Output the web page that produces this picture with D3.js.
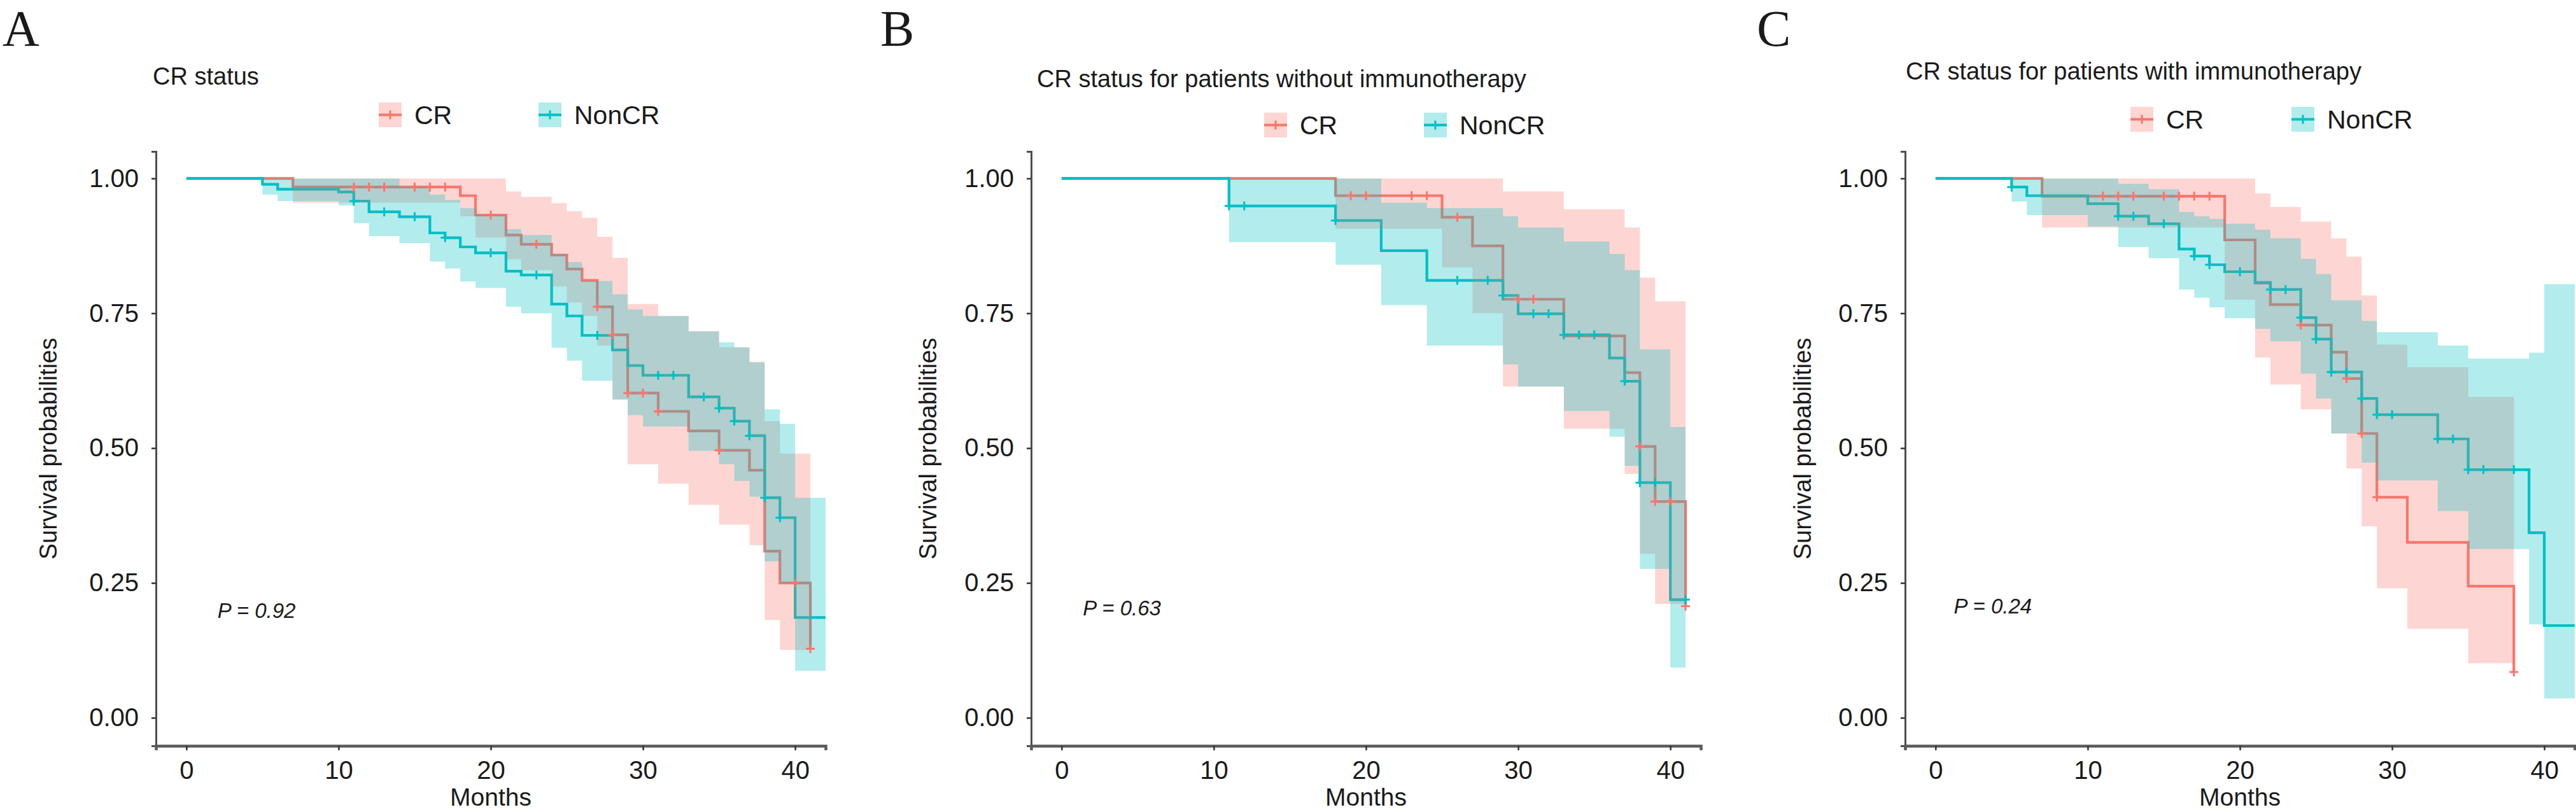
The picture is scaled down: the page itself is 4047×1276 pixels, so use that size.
<!DOCTYPE html>
<html>
<head>
<meta charset="utf-8">
<script src="https://cdn.jsdelivr.net/npm/d3@7"></script>
<style>
    body { margin: 0; background: #fff; }
    svg { display: block; }
    text { font-family: "Liberation Sans", Arial, sans-serif; fill: #1a1a1a; }
</style>
</head>
<body>
<svg id="chart" width="4047" height="1276"></svg>
<script>
// groups + shared ticks
var groups = ["CR", "NonCR"];
var xTicks = [0, 10, 20, 30, 40];
var yTicks = [0, 0.25, 0.5, 0.75, 1];
var panelLetters = ["A", "B", "C"];
var panelTitles = ["CR status",
    "CR status for patients without immunotherapy",
    "CR status for patients with immunotherapy"];
var pValues = ["P = 0.92", "P = 0.63", "P = 0.24"];
var pValueAt = [[2.05, 0.185], [1.4, 0.19], [1.2, 0.194]];   // [months, surv]

// A: all patients
var aCrTime   = [0, 7, 18, 19, 21, 22, 24, 25, 26, 27, 28, 29, 31, 33, 35, 37, 38, 39, 41];
var aCrSurv   = [1, .984, .968, .932, .895, .878, .858, .832, .811, .762, .71, .602, .568, .532, .496, .459, .309, .25, .128];
var aCrUpper  = [1, 1, 1, 1, .976, .966, .954, .939, .927, .892, .853, .767, .745, .717, .687, .66, .55, .49, .49];
var aCrLower  = [1, .955, .93, .89, .85, .83, .80, .77, .745, .69, .59, .47, .434, .395, .358, .32, .181, .126, .126];
var aCrCensor = [11, 12, 13, 15, 16, 17, 20, 23, 27, 28, 29, 30, 31, 35, 40, 41];
var aNonTime   = [0, 5, 6, 10, 11, 12, 14, 16, 17, 18, 19, 21, 22, 24, 25, 26, 28, 29, 30, 33, 35, 36, 37, 38, 39, 40];
var aNonSurv   = [1, .989, .98, .975, .958, .938, .929, .899, .89, .873, .862, .828, .821, .767, .745, .709, .682, .653, .635, .595, .574, .55, .523, .408, .371, .186];
var aNonUpper  = [1, 1, 1, 1, 1, 1, .985, .97, .96, .945, .932, .906, .895, .86, .845, .81, .785, .757, .745, .716, .696, .687, .659, .572, .545, .408];
var aNonLower  = [1, .97, .958, .95, .917, .893, .88, .846, .833, .809, .797, .762, .75, .686, .662, .625, .59, .561, .54, .495, .47, .439, .41, .29, .25, .087];
var aNonCensor = [11, 13, 15, 17, 20, 23, 27, 31, 32, 34, 35, 36, 37, 38, 39];
var aEnd = [41, 42];

// B: without immunotherapy
var bCrTime   = [0, 18, 25, 27, 29, 33, 37, 38, 39, 41];
var bCrSurv   = [1, .968, .928, .875, .776, .708, .64, .503, .401, .207];
var bCrUpper  = [1, 1, 1, 1, .976, .943, .909, .816, .772, .772];
var bCrLower  = [1, .907, .835, .75, .614, .536, .452, .304, .211, .211];
var bCrCensor = [19, 20, 23, 24, 26, 30, 31, 38, 39, 40, 41];
var bNonTime   = [0, 11, 18, 21, 24, 29, 30, 33, 36, 37, 38, 40];
var bNonSurv   = [1, .949, .922, .866, .811, .783, .749, .71, .667, .624, .436, .219];
var bNonUpper  = [1, 1, 1, .955, .945, .93, .909, .883, .86, .83, .683, .539];
var bNonLower  = [1, .882, .84, .765, .69, .655, .614, .569, .521, .467, .276, .093];
var bNonCensor = [11, 12, 18, 26, 28, 29, 31, 32, 33, 34, 35, 37, 38, 39, 41];
var bEnd = [41, 41];

// C: with immunotherapy
var cCrTime   = [0, 7, 19, 21, 22, 24, 26, 27, 28, 29, 31, 35, 38];
var cCrSurv   = [1, .967, .886, .806, .766, .728, .678, .629, .527, .409, .325, .244, .085];
var cCrUpper  = [1, 1, 1, .972, .947, .92, .889, .855, .783, .692, .65, .595, .595];
var cCrLower  = [1, .909, .775, .668, .618, .572, .527, .462, .355, .24, .165, .101, .101];
var cCrCensor = [11, 12, 13, 15, 16, 17, 18, 24, 27, 28, 29, 38];
var cNonTime   = [0, 5, 6, 10, 12, 14, 16, 17, 18, 19, 21, 22, 24, 25, 26, 28, 29, 33, 35, 39, 40];
var cNonSurv   = [1, .984, .968, .953, .93, .916, .869, .856, .84, .827, .807, .794, .742, .702, .641, .592, .562, .517, .46, .343, .171];
var cNonUpper  = [1, 1, 1, 1, .99, .98, .938, .93, .925, .916, .905, .889, .851, .823, .774, .736, .715, .69, .666, .677, .804];
var cNonLower  = [1, .957, .932, .911, .873, .852, .794, .779, .761, .741, .721, .698, .638, .592, .527, .473, .44, .383, .313, .173, .036];
var cNonCensor = [5, 12, 13, 15, 17, 18, 20, 22, 23, 24, 25, 26, 27, 28, 29, 30, 33, 34, 35, 36, 38];
var cEnd = [38, 42];

var panelData = [
    [[aCrTime, aCrSurv, aCrUpper, aCrLower, aCrCensor], [aNonTime, aNonSurv, aNonUpper, aNonLower, aNonCensor], aEnd],
    [[bCrTime, bCrSurv, bCrUpper, bCrLower, bCrCensor], [bNonTime, bNonSurv, bNonUpper, bNonLower, bNonCensor], bEnd],
    [[cCrTime, cCrSurv, cCrUpper, cCrLower, cCrCensor], [cNonTime, cNonSurv, cNonUpper, cNonLower, cNonCensor], cEnd]
];

// layout (pixels)
var colors = ["#F8766D", "#00BFC4"];
var panels = [
    { letterX: 4,    titleX: 240,  titleY: 133, axisX: 245,  keyX: [595, 846],   keyY: 161, ylabX: 76 },
    { letterX: 1383, titleX: 1629, titleY: 137, axisX: 1620, keyX: [1986, 2237], keyY: 177, ylabX: 1458 },
    { letterX: 2760, titleX: 2994, titleY: 125, axisX: 2993, keyX: [3347, 3600], keyY: 168, ylabX: 2832 }
];
var plotTop = 238, plotBottom = 1172, plotWidth = 1052;

var svg = d3.select("#chart");
panels.forEach(function (p, i) { drawPanel(p, panelData[i], i); });

function toSteps(curve, end) {
    var pts = curve[0].map(function (t, k) {
        return { t: t, s: curve[1][k], hi: curve[2][k], lo: curve[3][k] };
    });
    var last = pts[pts.length - 1];
    pts.push({ t: end, s: last.s, hi: last.hi, lo: last.lo });
    return pts;
}

function survAt(curve, t) {
    var k = d3.bisectRight(curve[0], t) - 1;
    return curve[1][Math.max(k, 0)];
}

function drawPanel(p, data, i) {
    var x = d3.scaleLinear().domain([-2, 42]).range([p.axisX, p.axisX + plotWidth]);
    var y = d3.scaleLinear().domain([-0.052, 1.05]).range([plotBottom, plotTop]);
    var g = svg.append("g");

    // panel letter: baseline kept low enough that the glyph box stays inside
    g.append("text").attr("x", p.letterX).attr("y", 72)
        .style("font-family", '"Liberation Serif", "Times New Roman", serif')
        .style("font-size", "80px").text(panelLetters[i]);
    g.append("text").attr("x", p.titleX).attr("y", p.titleY)
        .style("font-size", "38px").text(panelTitles[i]);

    // legend
    groups.forEach(function (name, j) {
        var kx = p.keyX[j], ky = p.keyY;
        g.append("rect").attr("x", kx).attr("y", ky).attr("width", 36).attr("height", 39)
            .attr("fill", colors[j]).attr("fill-opacity", 0.3);
        g.append("line").attr("x1", kx).attr("x2", kx + 36).attr("y1", ky + 19.5).attr("y2", ky + 19.5)
            .attr("stroke", colors[j]).attr("stroke-width", 4);
        g.append("path").attr("d", "M-7,0H7M0,-7V7")
            .attr("transform", "translate(" + (kx + 18) + "," + (ky + 19.5) + ")")
            .attr("stroke", colors[j]).attr("stroke-width", 3).attr("fill", "none");
        g.append("text").attr("x", kx + 56).attr("y", ky + 34)
            .style("font-size", "41px").text(name);
    });

    var steps = [toSteps(data[0], data[2][0]), toSteps(data[1], data[2][1])];

    var line = d3.line().curve(d3.curveStepAfter)
        .x(function (d) { return x(d.t); })
        .y(function (d) { return y(d.s); });
    var band = d3.area().curve(d3.curveStepAfter)
        .x(function (d) { return x(d.t); })
        .y0(function (d) { return y(d.lo); })
        .y1(function (d) { return y(d.hi); });

    steps.forEach(function (pts, j) {
        g.append("path").datum(pts).attr("d", line)
            .attr("fill", "none").attr("stroke", colors[j]).attr("stroke-width", 4.2);
    });
    steps.forEach(function (pts, j) {
        g.append("path").datum(pts).attr("d", band)
            .attr("fill", colors[j]).attr("fill-opacity", 0.3).attr("stroke", "none");
    });
    [data[0], data[1]].forEach(function (curve, j) {
        g.selectAll(null).data(curve[4]).enter().append("path")
            .attr("d", "M-7,0H7M0,-7V7")
            .attr("transform", function (t) { return "translate(" + x(t) + "," + y(survAt(curve, t)) + ")"; })
            .attr("stroke", colors[j]).attr("stroke-width", 3).attr("fill", "none");
    });

    // axes
    var yAxis = g.append("g").attr("transform", "translate(" + p.axisX + ",0)")
        .call(d3.axisLeft(y).tickValues(yTicks).tickFormat(d3.format(".2f")).tickSize(7).tickPadding(20));
    yAxis.select(".domain").attr("stroke", "#4d4d4d").attr("stroke-width", 3);
    var xAxis = g.append("g").attr("transform", "translate(0," + plotBottom + ")")
        .call(d3.axisBottom(x).tickValues(xTicks).tickSize(7).tickPadding(17));
    xAxis.select(".domain").attr("stroke", "#5a5a5a").attr("stroke-width", 4.5);
    g.selectAll(".tick line").attr("stroke", "#333").attr("stroke-width", 2.5);
    g.selectAll(".tick text").style("font-size", "40px").style("font-family", '"Liberation Sans", Arial, sans-serif')
        .attr("fill", "#222");

    g.append("text")
        .attr("transform", "translate(" + p.ylabX + "," + ((plotTop + plotBottom) / 2) + ") rotate(-90)")
        .attr("text-anchor", "middle").attr("dominant-baseline", "central")
        .style("font-size", "38px").text("Survival probabilities");
    g.append("text").attr("x", (x.range()[0] + x.range()[1]) / 2).attr("y", 1266)
        .attr("text-anchor", "middle").style("font-size", "39px").text("Months");

    g.append("text").attr("x", x(pValueAt[i][0])).attr("y", y(pValueAt[i][1]))
        .style("font-size", "33px").style("font-style", "italic").text(pValues[i]);
}
</script>
</body>
</html>
